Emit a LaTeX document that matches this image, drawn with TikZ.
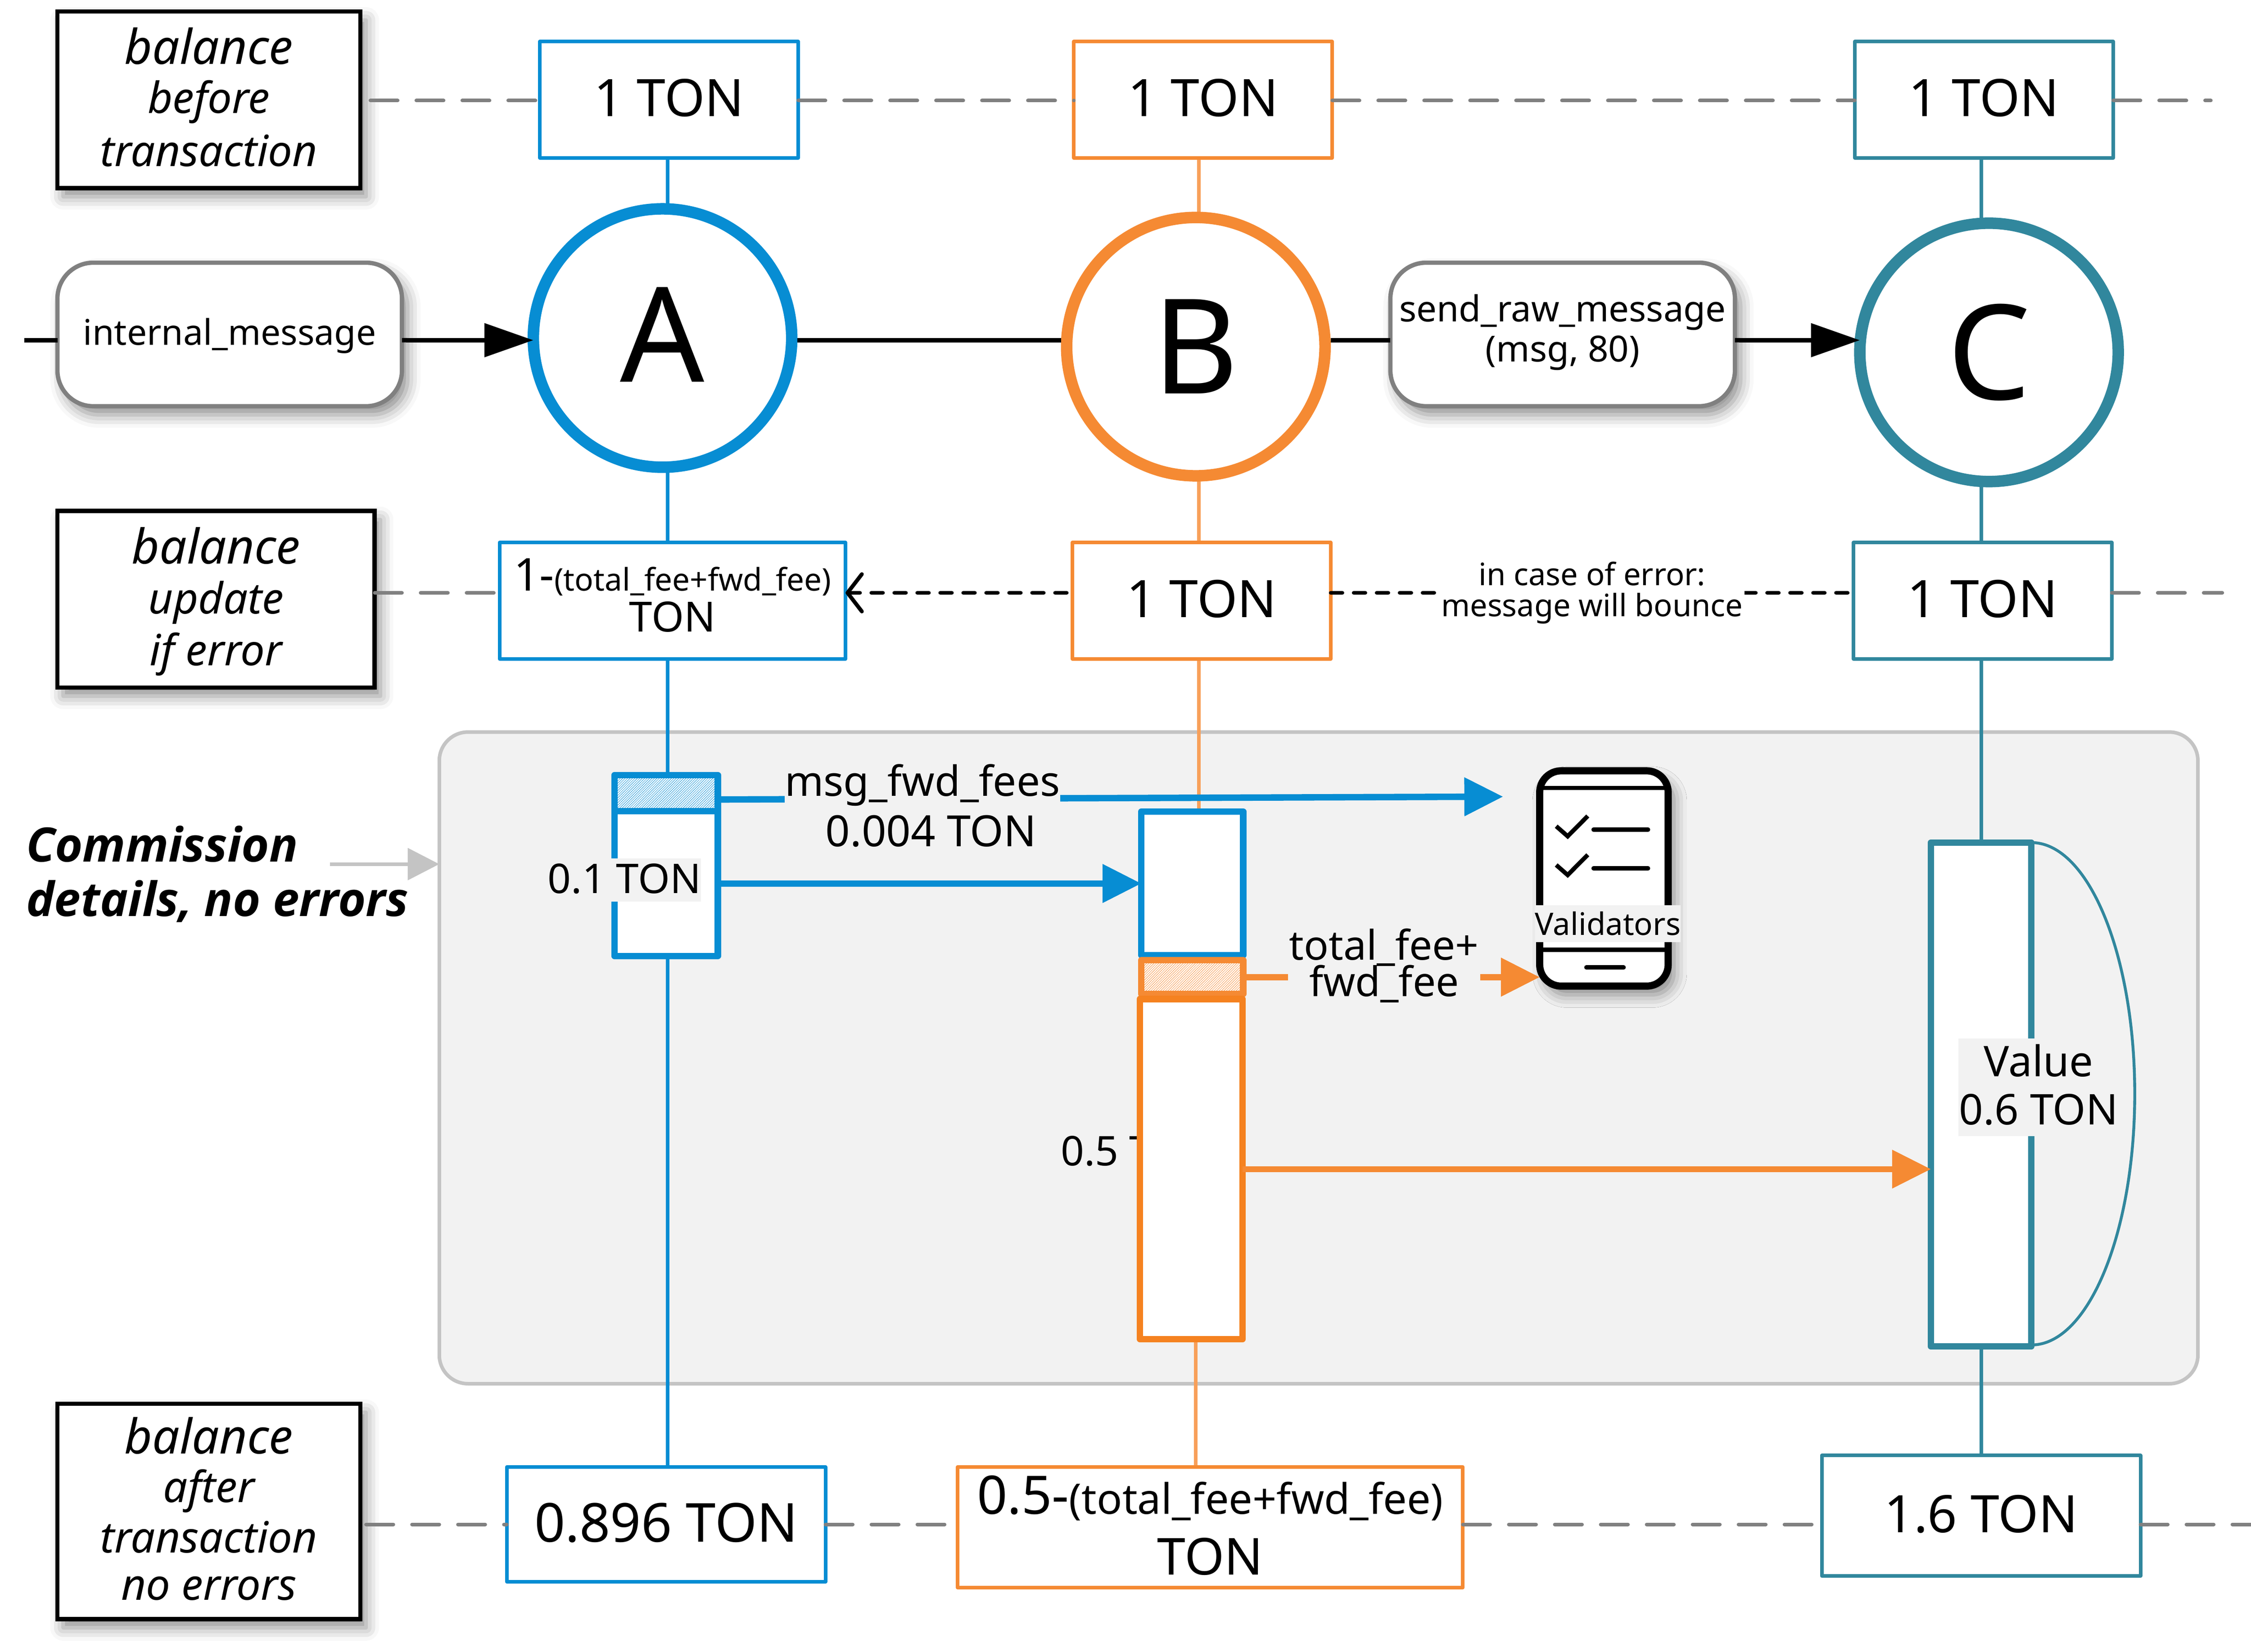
\documentclass[tikz,border=0pt]{standalone}
\usepackage{fontspec}
\setmainfont{Noto Sans}
\newfontfamily\commissionfont{Open Sans}
\usepackage{tikz}
\usetikzlibrary{positioning,shapes,shadows,shadows.blur,arrows.meta,patterns.meta}
\definecolor{tonblue}{HTML}{078DD3}
\definecolor{tonorange}{HTML}{F58A33}
\definecolor{tonorangedeep}{HTML}{F58220}
\definecolor{tonlife}{HTML}{F8A05A}
\definecolor{tonteal}{HTML}{31879D}
\definecolor{panelfill}{HTML}{F2F2F2}
\definecolor{panelline}{HTML}{C4C4C4}
\newcommand*\fsize[1]{\fontsize{#1}{#1}\selectfont}

\begin{document}
\begin{tikzpicture}[
        x=1pt, y=-1pt,
        >={Triangle[length=27pt,width=26pt]},
        softshadow/.style={blur shadow={shadow xshift=4pt, shadow yshift=-6pt, shadow blur radius=9pt, shadow opacity=45}},
        caption/.style={draw=black, line width=3pt, fill=white, softshadow, outer sep=0pt, inner sep=0pt, align=center, text depth=4pt, font=\itshape\fsize{30}},
        message/.style={draw=gray, line width=3pt, fill=white, rounded corners=25pt, softshadow, outer sep=0pt, inner sep=0pt, minimum width=240pt, minimum height=100pt, align=center, font=\fsize{24.6}},
        account/.style={draw, circle, line width=8pt, fill=white, minimum size=180pt, outer sep=0pt, inner sep=0pt, font=\fsize{92}},
        amount/.style={draw, line width=2.5pt, line join=round, fill=white, outer sep=0pt, inner sep=0pt, minimum width=180pt, minimum height=81pt, align=center, text depth=3pt, font=\fsize{36}},
        part/.style={draw, line width=4.5pt, line join=round, fill=white, outer sep=0pt, inner sep=0pt, minimum width=72pt},
        hatched/.style={part, postaction={pattern={Lines[angle=45,distance=1.2pt,line width=.25pt]}, pattern color=#1}},
        onpanel/.style={fill=panelfill, text=black, inner sep=0pt, outer sep=0pt, align=center, font=\fsize{28.5}},
        gridline/.style={draw=gray, line width=2.5pt, line cap=round, dash pattern=on 19pt off 13pt, shorten <=7pt},
        bounce/.style={draw=black, line width=2.7pt, line cap=round, dash pattern=on 8pt off 8pt, shorten <=4pt},
        feed/.style={draw=black, line width=3pt},
    ]
    \useasboundingbox (0,0) rectangle (1568,1150.8);

    \node[draw=panelline, line width=2.5pt, fill=panelfill, rounded corners=20pt, minimum width=1225pt, minimum height=454pt, outer sep=0pt] (panel) at (918.5,737) {};

    % life lines
    \coordinate (lifeAtop) at (465,110);
    \coordinate (lifeAend) at (465,1022);
    \coordinate (lifeBtop) at (835,110);
    \coordinate (lifeBmid) at (835,600);
    \coordinate (lifeBlow) at (833,900);
    \coordinate (lifeBend) at (833,1022);
    \coordinate (lifeCtop) at (1380,110);
    \coordinate (lifeCend) at (1380,1014);
    \draw[tonblue, line width=2.5pt] (lifeAtop) -- (lifeAend);
    \draw[tonlife, line width=2.5pt] (lifeBtop) -- (lifeBmid);
    \draw[tonlife, line width=2.5pt] (lifeBlow) -- (lifeBend);
    \draw[tonteal, line width=2.5pt] (lifeCtop) -- (lifeCend);

    % captions
    \node[caption, minimum width=211pt, minimum height=123pt] (capBefore) at (145.5,69.5) {{\fsize{33.5}balance}\\[4pt]before\\[7pt]transaction};
    \node[caption, minimum width=221pt, minimum height=123pt] (capUpdate) at (150.5,417.5) {{\fsize{33.5}balance}\\[5pt]update\\[5pt]if error};
    \node[caption, minimum width=211pt, minimum height=150pt] (capAfter) at (145.5,1053) {{\fsize{33.5}balance}\\[4pt]after\\[5pt]transaction\\[3pt]no errors};

    % balance boxes
    \node[amount, draw=tonblue] (tonA) at (466,69.5) {1 TON};
    \node[amount, draw=tonorange, right=192pt of tonA] (tonB) {1 TON};
    \node[amount, draw=tonteal, right=364pt of tonB] (tonC) {1 TON};
    \node[amount, draw=tonblue, minimum width=241pt, text depth=7.5pt] (upA) at (468.5,418.5) {{\fsize{31.5}1-}{\fsize{21.7}(total\_fee+fwd\_fee)}\\[-7.5pt]{\fsize{29}TON}};
    \node[amount, draw=tonorange, right=158pt of upA] (upB) {1 TON};
    \node[amount, draw=tonteal, right=364pt of upB] (upC) {1 TON};
    \node[amount, draw=tonblue, minimum width=222pt, minimum height=80pt, font=\fsize{37.5}] (finalA) at (464,1062) {0.896 TON};
    \node[amount, draw=tonorange, minimum width=352pt, minimum height=84pt, font=\fsize{35.5}] (finalB) at (843,1064) {{\fsize{37}0.5-}{\fsize{29.3}(total\_fee+fwd\_fee)}\\[7pt]TON};
    \node[amount, draw=tonteal, minimum width=222pt, minimum height=84pt] (finalC) at (1380,1056) {1.6 TON};

    % accounts
    \node[account, draw=tonblue, text depth=5pt] (circA) at (461.5,235.5) {A};
    \node[account, draw=tonorange] (circB) at (833,241.5) {B};
    \node[account, draw=tonteal] (circC) at (1385.5,245.5) {C};

    % messages
    \node[message, text height=20.5pt] (inMsg) at (160,233) {internal\_message};
    \node[message, text depth=9pt, font=\fsize{25}] (sendMsg) at (1088.5,233) {send\_raw\_message\\[3pt](msg, 80)};
    \coordinate (inStart) at (17,237);
    \path[feed]
        (inStart) edge (inStart -| inMsg.west)
        (inMsg.east |- inStart) edge[{Butt Cap}-{Triangle[length=34pt,width=23pt]}] (inStart -| circA.west)
        ([xshift=4pt]inStart -| circA.east) edge ([xshift=-4pt]inStart -| circB.west)
        ([xshift=4pt]inStart -| circB.east) edge (inStart -| sendMsg.west)
        (inStart -| sendMsg.east) edge[{Butt Cap}-{Triangle[length=34pt,width=23pt]}] (inStart -| circC.west)
        ;

    % dashed rows
    \coordinate (topEnd) at (1540,70);
    \coordinate (midEnd) at (1548,413);
    \coordinate (lowEnd) at (1568,1062);
    \path[gridline]
        ([yshift=-.5pt]capBefore.east) edge ([yshift=-.5pt]tonA.west)
        ([yshift=-.5pt]tonA.east) edge[shorten <=0pt] ([yshift=-.5pt]tonB.west)
        ([yshift=-.5pt]tonB.east) edge[shorten <=0pt] ([yshift=-.5pt]tonC.west)
        ([yshift=-.5pt]tonC.east) edge[shorten <=0pt] (topEnd)
        ([yshift=4.5pt]capUpdate.east) edge[shorten <=0pt] ([yshift=5.5pt]upA.west)
        ([yshift=5.5pt]upC.east) edge[shorten <=0pt] (midEnd)
        ([yshift=-9pt]capAfter.east) edge[shorten <=4pt] (finalA.west)
        (finalA.east) edge[shorten <=0pt] ([yshift=2pt]finalB.west)
        ([yshift=2pt]finalB.east) edge[shorten <=0pt] ([yshift=-6pt]finalC.west)
        ([yshift=-6pt]finalC.east) edge[shorten <=0pt] (lowEnd)
        ;
    \path[bounce]
        ([yshift=5.5pt]upB.west) edge[-{Straight Barb[length=10pt,width=26pt,round]}] ([yshift=5.5pt]upA.east)
        ([yshift=5.5pt]upC.west) edge node[fill=white, inner sep=1pt, align=center, font=\fsize{21.5}] {in case of error:\\[0pt]message will bounce} ([yshift=5.5pt]upB.east)
        ;

    % commission panel
    \node[font=\commissionfont\bfseries\itshape\fsize{33}, align=left, anchor=west, inner sep=0pt] (comText) at (18,609) {Commission\\[5pt]details, no errors};
    \coordinate (comTail) at (230,602);
    \draw[panelline, line width=2.5pt, -{Triangle[length=22pt,width=22pt]}] (comTail) -- (comTail -| panel.west);

    \node[onpanel, anchor=west] (labelB) at (739,802) {0.5 TON};

    \node[part, hatched=tonblue, draw=tonblue, minimum height=25pt] (hatchA) at (464,552.5) {};
    \node[part, draw=tonblue, minimum height=101pt] (barA) at (464,615.5) {};
    \node[part, draw=tonblue, minimum width=71pt, minimum height=100pt] (feeB) at (830.5,615.5) {};
    \node[part, hatched=tonorange, draw=tonorange, minimum width=71pt, minimum height=23.5pt] (hatchB) at (830.5,680.75) {};
    \node[part, draw=tonorangedeep, minimum width=71.5pt, minimum height=237pt] (barB) at (829.75,814.5) {};
    \node[part, draw=tonteal, minimum width=70pt, minimum height=351pt] (barC) at (1380,762.5) {};

    \node[draw=black, line width=5pt, fill=white, rounded corners=15pt, softshadow, minimum width=89.5pt, minimum height=150pt, outer sep=0pt] (phone) at (1117.25,612) {};
    \coordinate (phoneTopL) at (1072.5,549);
    \coordinate (phoneLowL) at (1072.5,661.7);
    \draw[line width=3pt] (phoneTopL) -- (phoneTopL -| phone.east);
    \draw[line width=3pt] (phoneLowL) -- (phoneLowL -| phone.east);
    \draw[line width=3pt] (1084,575.6) -- (1092,582.6) -- (1106,568.5);
    \draw[line width=3pt] (1084,602.6) -- (1092,609.6) -- (1106,595.5);
    \draw[line width=3pt, line cap=round] (1110,578) -- (1148,578);
    \draw[line width=3pt, line cap=round] (1110,605) -- (1148,605);
    \draw[line width=3pt, line cap=round] (1105,674) -- (1131,674);
    \node[onpanel, font=\fsize{21.6}, minimum width=101pt, minimum height=26pt] (phoneName) at (1120,643.5) {Validators};

    % payments
    \coordinate (validIn) at (1047,555);
    \draw[tonblue, line width=4.5pt, ->] ([yshift=-4.5pt]hatchA.east) -- (validIn);
    \node[onpanel, font=\fsize{29}] (fwdLabel) at (642.5,547) {msg\_fwd\_fees};
    \node[onpanel, font=\fsize{30}] (fwdValue) at (648.5,579) {0.004 TON};
    \draw[tonblue, line width=4.5pt, ->] (barA.east) -- (feeB.west);
    \draw[tonorange, line width=4.5pt, ->] ([xshift=2pt]hatchB.east) -- (hatchB.east -| phone.west)
        node[onpanel, pos=.47, yshift=8pt, inner xsep=1pt] (feeLabel) {total\_fee+\\[-3pt]fwd\_fee};
    \draw[tonorange, line width=4pt, ->] (barB.east) -- (barB.east -| barC.west);
    \draw[tonteal, line width=2pt] (barC.north east) arc[start angle=90, end angle=-90, x radius=72pt, y radius=175pt];

    \node[onpanel, font=\fsize{29.5}, text depth=4pt, minimum width=112pt, minimum height=68pt] (valueLabel) at (1420,757.5) {Value\\[4pt]0.6 TON};
    \node[onpanel, text depth=2pt, minimum height=30pt] (partLabel) at (435,613) {0.1 TON};
\end{tikzpicture}
\end{document}
